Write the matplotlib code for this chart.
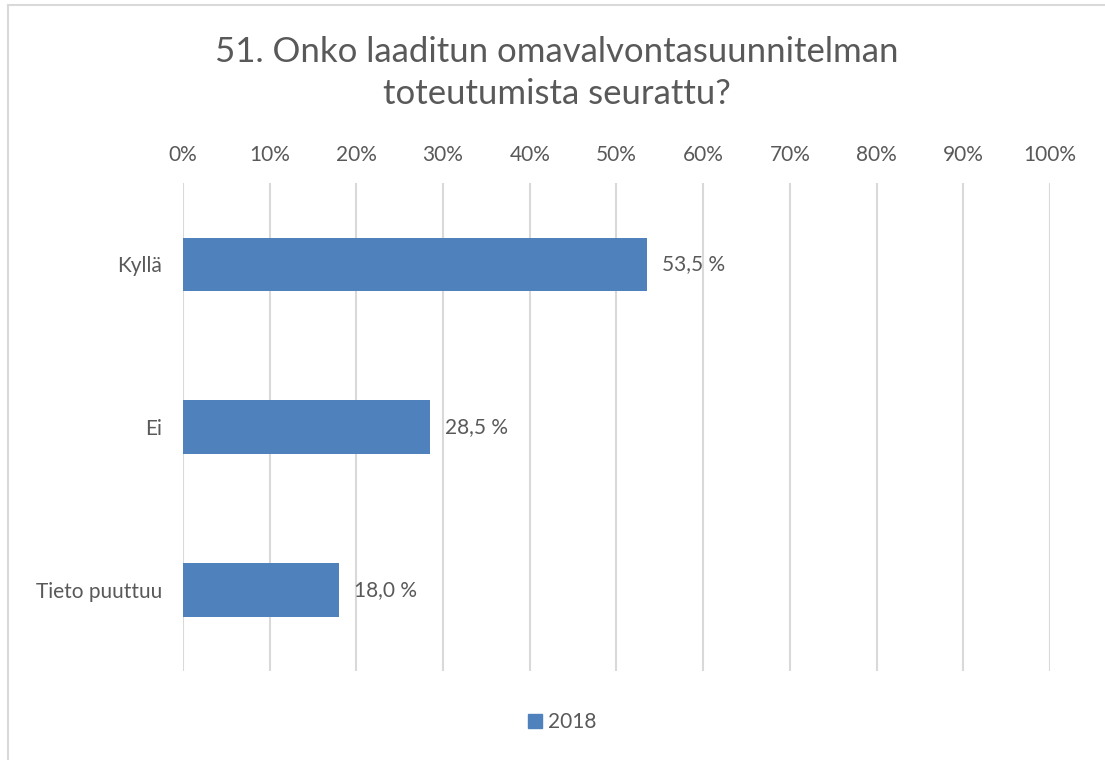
import matplotlib.pyplot as plt
from matplotlib.lines import Line2D

plt.rcParams['font.family'] = ['Lato', 'DejaVu Sans']

# Data
categories = ['Kyllä', 'Ei', 'Tieto puuttuu']
values_2018 = [53.5, 28.5, 18.0]
series_name = '2018'
x_ticks = list(range(0, 101, 10))
title = '51. Onko laaditun omavalvontasuunnitelman\ntoteutumista seurattu?'

bar_color = '#4F81BD'
text_color = '#595959'
grid_color = '#D9D9D9'

fig = plt.figure(figsize=(11.05, 7.6), dpi=100)
ax = fig.add_axes([0.1656, 0.1171, 0.7846, 0.6421])

ypos = list(range(len(categories)))
bars = ax.barh(ypos, values_2018, height=0.33, color=bar_color, label=series_name, zorder=3)

ax.set_xlim(0, 100)
ax.set_ylim(len(categories) - 0.5, -0.5)
ax.set_yticks(ypos)
ax.set_yticklabels(categories)
ax.set_xticks(x_ticks)
ax.set_xticklabels([f'{t}%' for t in x_ticks])
ax.xaxis.tick_top()
ax.tick_params(axis='x', length=0, pad=13, labelsize=15, labelcolor=text_color)
ax.tick_params(axis='y', length=0, pad=15, labelsize=15, labelcolor=text_color)
ax.grid(axis='x', color=grid_color, linewidth=1.5, zorder=0)
for s in ax.spines.values():
    s.set_visible(False)

# value labels, e.g. "53,5 %"
for b, v in zip(bars, values_2018):
    ax.annotate(f'{v:.1f}'.replace('.', ',') + ' %',
                xy=(b.get_width(), b.get_y() + b.get_height() / 2),
                xytext=(11, 0), textcoords='offset points',
                va='center', ha='left', fontsize=15, color=text_color)

fig.text(0.504, 1 - 73 / 760, title, ha='center', va='center',
         fontsize=25, color=text_color, linespacing=1.42)

fig.legend(handles=[Line2D([], [], marker='s', linestyle='', color=bar_color, markersize=10)],
           labels=[series_name], loc='center', bbox_to_anchor=(0.508, 1 - 722 / 760),
           frameon=False, fontsize=15, labelcolor=text_color,
           handletextpad=0.2, handlelength=0.8)

# chart frame
fig.add_artist(Line2D([8 / 1105, 8 / 1105], [0, 1 - 5 / 760], color=grid_color, linewidth=1.5))
fig.add_artist(Line2D([8 / 1105, 1], [1 - 5 / 760, 1 - 5 / 760], color=grid_color, linewidth=1.5))

fig.savefig('out.png', dpi=100)
